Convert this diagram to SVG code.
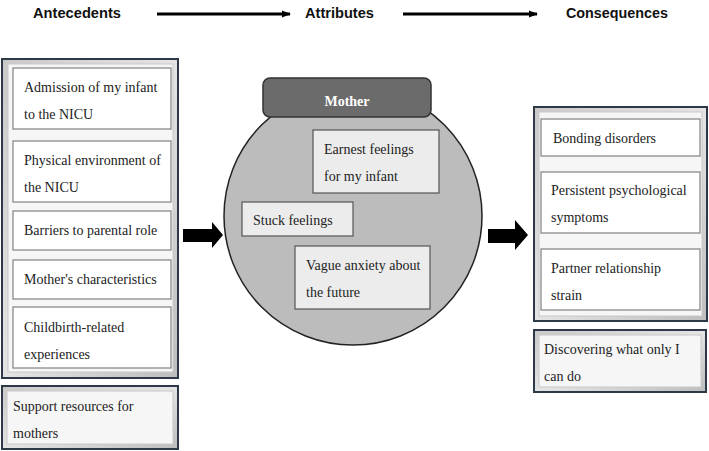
<svg xmlns="http://www.w3.org/2000/svg" width="709" height="451" viewBox="0 0 709 451">
<style>
.hdr{font-family:"Liberation Sans",Arial,sans-serif;font-weight:bold;font-size:15px;fill:#111}
.t{font-family:"Liberation Serif","Times New Roman",serif;font-size:14px;fill:#222}
.box{fill:#fff;stroke:#8a8a8a;stroke-width:1.3}
.abox{fill:#ececec;stroke:#555;stroke-width:1.2}
.frame{fill:url(#bevel);stroke:#2c3a47;stroke-width:2}
.inner{fill:#f6f6f6;stroke:#c8c8c8;stroke-width:1}
.conn{stroke:#000;stroke-width:3;fill:none}
</style>
<defs>
<linearGradient id="bevel" x1="0" y1="0" x2="1" y2="1">
<stop offset="0" stop-color="#c9c9c9"/>
<stop offset="0.5" stop-color="#e4e4e4"/>
<stop offset="1" stop-color="#bdbdbd"/>
</linearGradient>
<marker id="ah" viewBox="0 0 10 10" refX="9" refY="5" markerWidth="3" markerHeight="3" orient="auto">
<path d="M0,1 L10,5 L0,9 z" fill="#000"/>
</marker>
</defs>
<rect width="709" height="451" fill="#fff"/>

<g id="headers">
<text class="hdr" x="33" y="18" textLength="88" lengthAdjust="spacingAndGlyphs">Antecedents</text>
<text class="hdr" x="305" y="18" textLength="69" lengthAdjust="spacingAndGlyphs">Attributes</text>
<text class="hdr" x="566" y="18" textLength="102" lengthAdjust="spacingAndGlyphs">Consequences</text>
</g>

<g id="connectors">
<line class="conn" x1="157" y1="14" x2="290" y2="14" marker-end="url(#ah)"/>
<line class="conn" x1="403" y1="14" x2="537" y2="14" marker-end="url(#ah)"/>
<path d="M183,229 H212 V222 L223,235 L212,248 V242 H183 z" fill="#000"/>
<path d="M488,229 H515 V220 L528,235 L515,250 V243 H488 z" fill="#000"/>
</g>

<g id="antecedents">
<rect class="frame" x="2" y="59" width="176" height="319"/>
<rect class="inner" x="8" y="64" width="165" height="308"/>
<g id="a1"><rect class="box" x="13" y="68" width="158" height="61"/>
<text class="t" x="24" y="92">Admission of my infant</text><text class="t" x="24" y="119">to the NICU</text></g>
<g id="a2"><rect class="box" x="13" y="141" width="158" height="61"/>
<text class="t" x="24" y="165">Physical environment of</text><text class="t" x="24" y="192">the NICU</text></g>
<g id="a3"><rect class="box" x="13" y="211" width="158" height="39"/>
<text class="t" x="24" y="235">Barriers to parental role</text></g>
<g id="a4"><rect class="box" x="13" y="260" width="158" height="39"/>
<text class="t" x="24" y="284">Mother's characteristics</text></g>
<g id="a5"><rect class="box" x="13" y="307" width="158" height="61"/>
<text class="t" x="24" y="332">Childbirth-related</text><text class="t" x="24" y="359">experiences</text></g>
</g>

<g id="support">
<rect class="frame" x="2" y="386" width="176" height="63"/>
<rect class="inner" x="7" y="391" width="166" height="53"/>
<text class="t" x="13" y="411">Support resources for</text><text class="t" x="13" y="438">mothers</text>
</g>

<g id="attributes">
<circle cx="353" cy="216" r="129" fill="#bcbcbc" stroke="#222" stroke-width="1.5"/>
<g id="mother"><rect x="263" y="78" width="168" height="39" rx="7" fill="#6b6b6b" stroke="#333" stroke-width="1.5"/>
<text x="347" y="106" text-anchor="middle" font-family="'Liberation Serif','Times New Roman',serif" font-weight="bold" font-size="14" fill="#fff">Mother</text></g>
<g id="b1"><rect class="abox" x="313" y="130" width="126" height="63"/>
<text class="t" x="324" y="154">Earnest feelings</text><text class="t" x="324" y="181">for my infant</text></g>
<g id="b2"><rect class="abox" x="242" y="202" width="111" height="34"/>
<text class="t" x="253" y="225">Stuck feelings</text></g>
<g id="b3"><rect class="abox" x="295" y="246" width="135" height="63"/>
<text class="t" x="306" y="270">Vague anxiety about</text><text class="t" x="306" y="297">the future</text></g>
</g>

<g id="consequences">
<rect class="frame" x="534" y="107" width="173" height="214"/>
<rect class="inner" x="539" y="112" width="163" height="204"/>
<g id="c1"><rect class="box" x="541" y="119" width="159" height="37"/>
<text class="t" x="553" y="143">Bonding disorders</text></g>
<g id="c2"><rect class="box" x="541" y="172" width="159" height="61"/>
<text class="t" x="551" y="195">Persistent psychological</text><text class="t" x="551" y="222">symptoms</text></g>
<g id="c3"><rect class="box" x="541" y="249" width="159" height="61"/>
<text class="t" x="551" y="273">Partner relationship</text><text class="t" x="551" y="300">strain</text></g>
</g>

<g id="discovering">
<rect class="frame" x="534" y="330" width="172" height="62"/>
<rect class="inner" x="539" y="335" width="162" height="52"/>
<text class="t" x="544" y="354">Discovering what only I</text><text class="t" x="544" y="381">can do</text>
</g>
</svg>
